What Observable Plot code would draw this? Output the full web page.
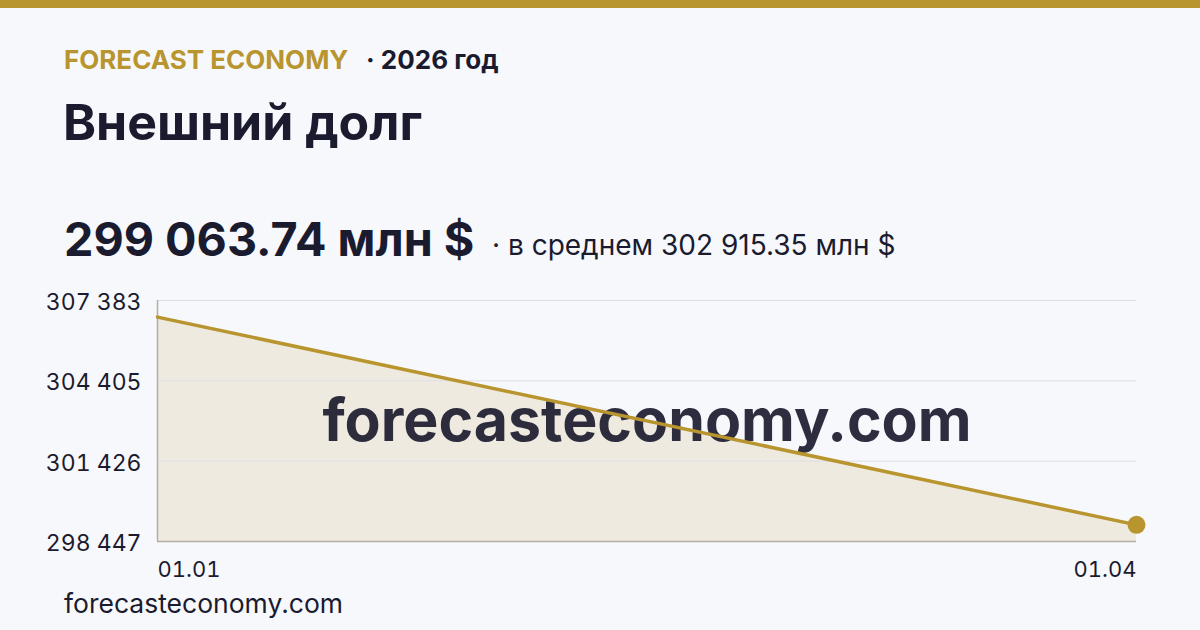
<!DOCTYPE html>
<html>
<head>
<meta charset="utf-8">
<script src="https://cdn.jsdelivr.net/npm/d3@7"></script>
<script src="https://cdn.jsdelivr.net/npm/@observablehq/plot@0.6"></script>
<style>
  html, body { margin: 0; padding: 0; }
  body { width: 1200px; height: 630px; background: #f7f8fc; position: relative; overflow: hidden; font-family: Inter, "Noto Sans", sans-serif; color: #1b1b2f; }
  .bar { position: absolute; left: 0; top: 0; width: 1200px; height: 8px; background: #b8952e; }
  .t { position: absolute; line-height: 1; white-space: nowrap; }
  #chart { position: absolute; left: 0; top: 285px; }
</style>
</head>
<body>
<div class="bar"></div>
<div class="t" style="left:64px; top:47px; font-size:26px; font-weight:700; color:#b8952e;">FORECAST ECONOMY</div>
<div class="t" style="left:366px; top:47px; font-size:26px; font-weight:700;">· 2026 год</div>
<div class="t" style="left:63px; top:97px; font-size:50px; font-weight:700;">Внешний долг</div>
<div class="t" style="left:64px; top:216px; font-size:46.7px; font-weight:700;">299 063.74 млн $</div>
<div class="t" style="left:492px; top:231px; font-size:28px; font-weight:400;">· в среднем 302 915.35 млн $</div>
<div id="chart"></div>
<div class="t" style="left:64px; top:590px; font-size:26.5px; font-weight:400;">forecasteconomy.com</div>
<script>
const dates = ["2026-01-01", "2026-04-01"];
const xLabels = ["01.01", "01.04"];
const values = [306766.96, 299063.74];
const yTicks = [298447, 301426, 304405, 307383];
const watermark = "forecasteconomy.com";

const data = dates.map((d, i) => ({date: new Date(d + "T00:00:00Z"), value: values[i]}));
const xDates = data.map(d => d.date);
const labelOf = new Map(xDates.map((d, i) => [+d, xLabels[i]]));
const fmtY = d => d3.format(",")(d).replace(/,/g, " ");

const gold = "#b8952e";
const axisGray = "#b3ada2";

const plot = Plot.plot({
  width: 1200,
  height: 300,
  marginLeft: 157,
  marginRight: 64,
  marginTop: 15,
  marginBottom: 44,
  style: {fontFamily: "Inter, 'Noto Sans', sans-serif", background: "transparent", color: "#1b1b2f"},
  x: {type: "utc", domain: [xDates[0], xDates[xDates.length - 1]]},
  y: {domain: [yTicks[0], yTicks[yTicks.length - 1]]},
  marks: [
    Plot.areaY(data, {x: "date", y1: yTicks[0], y2: "value", fill: "#efeadf", curve: "linear"}),
    Plot.ruleY(yTicks.slice(1), {stroke: "#dedee6", strokeWidth: 1}),
    Plot.ruleY([yTicks[0]], {stroke: axisGray, strokeWidth: 1.5}),
    Plot.ruleX([xDates[0]], {stroke: axisGray, strokeWidth: 1.5}),
    Plot.axisY(yTicks, {tickSize: 0, tickPadding: 16, fontSize: 23, dy: 2, tickFormat: fmtY, fill: "#1b1b2f", label: null}),
    Plot.axisX([xDates[0]], {tickSize: 0, tickPadding: 20, fontSize: 22, textAnchor: "start", tickFormat: d => labelOf.get(+d), label: null, fill: "#1b1b2f"}),
    Plot.axisX([xDates[xDates.length - 1]], {tickSize: 0, tickPadding: 20, fontSize: 22, textAnchor: "end", tickFormat: d => labelOf.get(+d), label: null, fill: "#1b1b2f"}),
    Plot.text([watermark], {frameAnchor: "middle", fontSize: 59, fontWeight: 700, fill: "#1b1b2f", fillOpacity: 0.92, dy: 1}),
    Plot.line(data, {x: "date", y: "value", stroke: gold, strokeWidth: 3.5}),
    Plot.dot(data.slice(-1), {x: "date", y: "value", r: 9, fill: gold, stroke: null})
  ]
});
document.getElementById("chart").appendChild(plot);
</script>
</body>
</html>
